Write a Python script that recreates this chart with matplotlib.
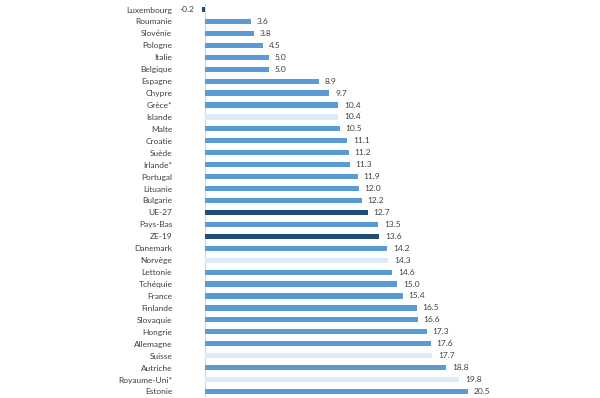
import matplotlib
matplotlib.use("Agg")
import matplotlib.pyplot as plt

categories = ["Luxembourg", "Roumanie", "Slovénie", "Pologne", "Italie", "Belgique",
              "Espagne", "Chypre", "Grèce*", "Islande", "Malte", "Croatie", "Suède",
              "Irlande*", "Portugal", "Lituanie", "Bulgarie", "UE-27", "Pays-Bas",
              "ZE-19", "Danemark", "Norvège", "Lettonie", "Tchéquie", "France",
              "Finlande", "Slovaquie", "Hongrie", "Allemagne", "Suisse", "Autriche",
              "Royaume-Uni*", "Estonie"]
values = [-0.2, 3.6, 3.8, 4.5, 5.0, 5.0, 8.9, 9.7, 10.4, 10.4, 10.5, 11.1, 11.2,
          11.3, 11.9, 12.0, 12.2, 12.7, 13.5, 13.6, 14.2, 14.3, 14.6, 15.0, 15.4,
          16.5, 16.6, 17.3, 17.6, 17.7, 18.8, 19.8, 20.5]
groups = ["agg", "eu", "eu", "eu", "eu", "eu", "eu", "eu", "eu", "non", "eu", "eu", "eu",
          "eu", "eu", "eu", "eu", "agg", "eu", "agg", "eu", "non", "eu", "eu", "eu",
          "eu", "eu", "eu", "eu", "non", "eu", "non", "eu"]

colors_map = {"eu": "#5B9BD5", "non": "#DDEBF7", "agg": "#1F4E79"}

W, H = 600, 398
fig = plt.figure(figsize=(W / 100, H / 100), dpi=100)
n = len(categories)
sp = (391 - 9) / (n - 1)
top = 9.5 - sp / 2
bottom = 391.5 + sp / 2
left_px, right_px = 200, 560
scale = (468 - 205) / 20.5
x0 = -(205 - left_px) / scale
x1 = (right_px - 205) / scale
ax = fig.add_axes([left_px / W, (H - bottom) / H, (right_px - left_px) / W, (bottom - top) / H])

FONT = "Lato"
ypos = list(range(n))
ax.barh(ypos, values, height=0.43, color=[colors_map[g] for g in groups], zorder=2)
ax.set_xlim(x0, x1)
ax.set_ylim(n - 0.5, -0.5)
ax.axvline(0, color="#D9D9D9", lw=0.8, zorder=1)
for s in ax.spines.values():
    s.set_visible(False)
ax.set_xticks([])
ax.set_yticks(ypos)
ax.set_yticklabels(categories, fontsize=6, color="#404040", family=FONT)
ax.tick_params(axis="y", length=0, pad=20)
for y, v in zip(ypos, values):
    if v >= 0:
        ax.text(v + 0.45, y, f"{v:.1f}", va="center", ha="left", fontsize=6,
                color="#404040", family=FONT)
    else:
        ax.text(v - 0.6, y, f"{v:.1f}", va="center", ha="right", fontsize=6,
                color="#404040", family=FONT)

fig.savefig("out.png", dpi=100)
